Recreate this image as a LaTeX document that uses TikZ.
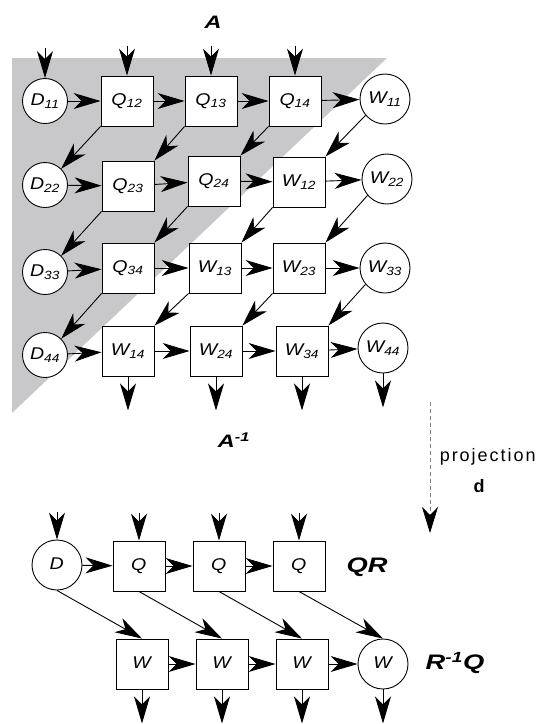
\documentclass[tikz,border=0pt]{standalone}
\usepackage{fontspec}
\setmainfont{Liberation Sans}
\usepackage{graphicx}
\usepackage{tikz}
\usetikzlibrary{arrows.meta, positioning}
\definecolor{arraygray}{RGB}{200,200,202}
\newcommand\Sub[2]{\scalebox{1.15}[1]{#1\textsubscript{#2}}}
\newcommand\Wide[1]{\scalebox{1.3}[1]{#1}}

\begin{document}
\begin{tikzpicture}[x=1pt, y=-1pt, line width=0.9pt,
    sq/.style={draw, fill=white, minimum width=52pt, minimum height=50pt, inner sep=0pt,
               font=\fontsize{17}{19}\selectfont\itshape},
    rnd/.style={circle, draw, fill=white, minimum size=45pt, inner sep=0pt,
               font=\fontsize{17}{19}\selectfont\itshape},
    big/.style={rnd, minimum size=50pt},
    flow/.style={-{Stealth[length=27pt, width=16pt, inset=8pt]}},
    lbl/.style={font=\fontsize{18}{20}\selectfont\bfseries\itshape}]
  \useasboundingbox (0,0) rectangle (541,724);

  % triangular part of the array
  \fill[arraygray] (12,58) -- (387,58) -- (12,413) -- cycle;

  % array for A
  \node[rnd] (D11) at (45,101) {\Sub{D}{11}};
  \node[sq]  (Q12) at (127,101) {\Sub{Q}{12}};
  \node[sq]  (Q13) at (211,101) {\Sub{Q}{13}};
  \node[sq]  (Q14) at (295,101) {\Sub{Q}{14}};
  \node[big] (W11) at (385,99) {\Sub{W}{11}};

  \node[rnd] (D22) at (45,185) {\Sub{D}{22}};
  \node[sq]  (Q23) at (128,186) {\Sub{Q}{23}};
  \node[sq]  (Q24) at (214,181) {\Sub{Q}{24}};
  \node[sq]  (W12) at (299,182) {\Sub{W}{12}};
  \node[big] (W22) at (387,179) {\Sub{W}{22}};

  \node[rnd] (D33) at (45,272) {\Sub{D}{33}};
  \node[sq]  (Q34) at (128,268) {\Sub{Q}{34}};
  \node[sq]  (W13) at (215,268) {\Sub{W}{13}};
  \node[sq]  (W23) at (299,268) {\Sub{W}{23}};
  \node[big] (W33) at (385,268) {\Sub{W}{33}};

  \node[rnd] (D44) at (45,355) {\Sub{D}{44}};
  \node[sq]  (W14) at (128,351) {\Sub{W}{14}};
  \node[sq]  (W24) at (216,351) {\Sub{W}{24}};
  \node[sq]  (W34) at (302,351) {\Sub{W}{34}};
  \node[big] (W44) at (383,348) {\Sub{W}{44}};

  \foreach \a/\b in {D11/Q12, Q12/Q13, Q13/Q14, Q14/W11,
                     D22/Q23, Q23/Q24, Q24/W12, W12/W22,
                     D33/Q34, Q34/W13, W13/W23, W23/W33,
                     D44/W14, W14/W24, W24/W34, W34/W44}
    \draw[flow] (\a) -- (\b);

  \foreach \a/\b in {Q12/D22.45, Q13/Q23.north east, Q14/Q24.north east,
                     Q23/D33.45, Q24/Q34.north east, W12/W13.north east,
                     Q34/D44.45, W13/W14.north east, W23/W24.north east}
    \draw[flow] (\a.south west) -- (\b);
  \draw[flow] (W11.220) -- (W12.north east);
  \draw[flow] (W22.220) -- (W23.north east);
  \draw[flow] (W33.220) -- (W34.north east);

  \foreach \n in {D11, Q12, Q13, Q14}
    \draw[flow] ([yshift=30pt]\n.north) -- (\n.north);
  \foreach \n in {W14, W24, W34, W44}
    \draw[flow] (\n.south) -- ([yshift=-34pt]\n.south);

  \node[lbl] (A) at (213,22) {\Wide{A}};
  \node[lbl] (Ainv) at (234,440) {\Wide{A\textsuperscript{-1}}};

  % projection
  \coordinate (p0) at (430,402);
  \coordinate (p1) at (430,533);
  \draw[-{Stealth[length=26pt, width=16pt, inset=8pt, color=black]},
        draw=gray, line width=0.6pt, dash pattern=on 4pt off 3pt] (p0) -- (p1);
  \node[right, font=\fontsize{18}{20}\selectfont\addfontfeatures{LetterSpace=11}] (proj) at (436,457) {projection};
  \node[font=\fontsize{18}{20}\selectfont\bfseries] (dvec) at (479,486) {d};

  % projected array
  \node[big] (d)  at (57,565) {\Sub{D}{}};
  \node[sq]  (q1) at (139,566) {\Sub{Q}{}};
  \node[sq]  (q2) at (219,566) {\Sub{Q}{}};
  \node[sq]  (q3) at (299,566) {\Sub{Q}{}};
  \node[sq]  (w1) at (142,664) {\Sub{W}{}};
  \node[sq]  (w2) at (222,664) {\Sub{W}{}};
  \node[sq]  (w3) at (302,664) {\Sub{W}{}};
  \node[big] (w4) at (383,664) {\Sub{W}{}};

  \foreach \a/\b in {d/q1, q1/q2, q2/q3, w1/w2, w2/w3, w3/w4}
    \draw[flow] (\a) -- (\b);
  \foreach \a/\b in {d/w1, q1/w2, q2/w3, q3/w4}
    \draw[flow] (\a.south) -- (\b.north);
  \foreach \n in {d, q1, q2, q3}
    \draw[flow] ([yshift=28pt]\n.north) -- (\n.north);
  \foreach \n in {w1, w2, w3, w4}
    \draw[flow] (\n.south) -- ([yshift=-34pt]\n.south);

  \node[lbl, font=\fontsize{21}{23}\selectfont\bfseries\itshape] (QR) at (367,567) {\Wide{QR}};
  \node[lbl, font=\fontsize{21}{23}\selectfont\bfseries\itshape] (RQ) at (455,663) {\Wide{R\textsuperscript{-1}Q}};
\end{tikzpicture}
\end{document}
